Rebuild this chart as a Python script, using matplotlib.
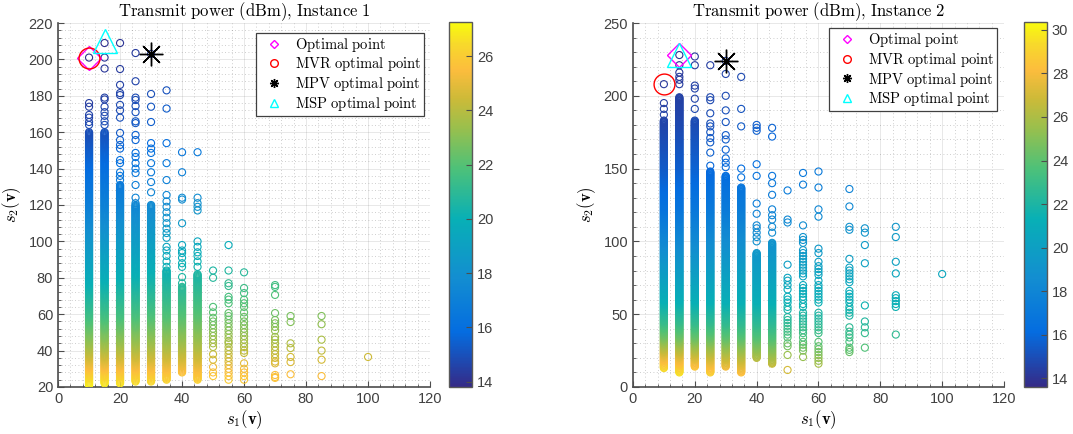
import numpy as np
import matplotlib
matplotlib.use("Agg")
import matplotlib.pyplot as plt
from matplotlib.colors import LinearSegmentedColormap, Normalize
from matplotlib.lines import Line2D
from matplotlib.ticker import MultipleLocator, AutoMinorLocator

plt.rcParams['mathtext.fontset'] = 'cm'
plt.rcParams['font.family'] = ['Liberation Sans', 'DejaVu Sans']

# ---- datos ----
# Instancia 1: columnas s1, tramo denso (min, max) de s2 y puntos sueltos
cols1 = [10, 15, 20, 25, 30, 35, 40, 45, 50, 55, 60, 70, 75, 85, 100]
dense1 = [(21, 160), (22, 160), (22, 131), (23, 120), (23, 120), (24, 84), (28, 75), (24, 82),
          None, None, None, None, None, None, None]
sparse1 = [
    [164, 165.6, 168, 169.5, 174, 176, 201],
    [164, 166, 169, 171, 174, 178, 179, 195, 201, 209],
    [133.7, 136, 138, 143, 144.7, 151, 153, 155.7, 159.6, 168, 172, 175, 180.4, 181.5, 186, 194.7, 209],
    [121, 124, 131, 137.6, 140, 143, 146.4, 148.6, 155.7, 158.5, 165, 166, 171, 174.4, 177.7, 179, 188, 203.5],
    [127, 132.6, 138, 143, 148.6, 151, 154, 165.6, 174, 181, 203],
    [86, 89, 92, 95, 97, 102, 104.6, 107, 110, 113, 116, 119, 122, 125.5, 133.7, 143, 154, 173, 183],
    [77, 80.4, 86, 88, 91, 93.6, 95, 98, 110, 123, 124, 138, 149],
    [86, 89, 92, 94, 97, 100, 117, 119, 121, 124, 149],
    [26, 28, 31, 35, 38, 42, 44, 46, 48, 50, 52, 54, 56, 58, 61, 64, 80, 84],
    [24, 26, 28, 30, 32, 34, 36, 38, 40, 42, 44, 45, 47, 49, 51, 53, 55, 57, 59, 60.6, 66, 68, 69.5, 75.5, 77, 84, 98],
    [24, 26, 28, 30, 33, 38.7, 40, 42, 44, 46, 48, 50, 52, 54, 56, 58.5, 61, 64, 66, 68, 71.6, 74.4, 83],
    [25, 25.5, 26.6, 33, 34, 36, 38, 40, 42, 44, 46, 47.5, 51, 53, 55, 56.8, 60.6, 70.6, 75, 76],
    [27, 33.7, 36.5, 41.4, 44, 55.7, 59],
    [26, 35, 40, 46, 54.5, 59],
    [36.5],
]

# Instancia 2
cols2 = [10, 15, 20, 25, 30, 35, 40, 45, 50, 55, 60, 70, 75, 85, 100]
dense2 = [(13, 183), (10, 199), (14, 183), (10, 148), (14, 145), (10, 137), (20, 92), (16, 99),
          None, None, None, None, None, None, None]
sparse2 = [
    [187, 191, 195, 208],
    [208, 211, 213, 216, 221, 228],
    [191, 198, 205, 207, 221, 227],
    [152, 161, 168, 171, 175, 179, 181, 188, 197, 199, 221],
    [151, 154, 157, 163, 170, 173, 182, 190, 200, 215, 224],
    [144, 150, 179, 191, 213],
    [100, 103, 106, 109, 111, 119, 126, 145, 153, 176, 178, 180],
    [106, 110, 115, 118, 122, 132, 140, 145, 172, 178],
    [11.7, 22, 28, 30, 34, 36, 38, 40, 42, 44, 46, 48, 53, 55, 58, 60, 62, 67, 70, 73, 75, 84, 113, 115, 135],
    [20.6, 25, 27, 29, 31, 34, 37, 39, 41, 43, 45, 47, 49, 51, 55, 57, 60, 62, 64, 66, 68, 70, 76, 78, 80,
     82, 84, 86, 88, 90, 92, 94, 99, 101, 103, 111, 139, 147],
    [16, 18, 20, 22, 24, 26, 28, 31, 37, 39, 41, 43, 45, 47, 49, 51, 58, 60, 62, 64, 66, 68, 70, 73, 77, 79,
     81, 83, 86, 92, 95, 117, 122, 137, 148],
    [24, 25.5, 27, 31, 34, 36, 38, 41, 49, 51, 53, 55, 58, 60, 62, 64, 66, 72, 74, 76, 78, 80, 82, 88, 108,
     110, 124, 136],
    [27, 37, 41, 45, 56, 85, 97.5, 106, 109],
    [36, 55, 57, 59, 61, 63, 78, 86, 103, 110],
    [77.6],
]

pw1_y = [21, 28, 35, 45, 60, 80, 100, 120, 140, 160, 175, 201, 215]
pw1_lo = [27.1, 26.0, 24.8, 23.3, 21.5, 19.8, 18.4, 17.0, 15.9, 14.9, 14.4, 14.0, 13.9]
pw1_hi = [25.6, 25.4, 24.6, 23.8, 22.8, 21.7, 20.5, 19.3, 18.3, 17.5, 17.0, 15.8, 15.5]
pw2_y = [10, 15, 25, 35, 45, 60, 80, 100, 125, 150, 183, 208, 230]
pw2_lo = [30.0, 29.0, 26.8, 24.6, 23.0, 21.3, 19.8, 18.3, 16.6, 15.5, 14.6, 14.2, 13.9]
pw2_hi = [25.0, 24.4, 23.5, 22.7, 22.1, 21.2, 20.4, 19.7, 18.6, 17.8, 16.8, 16.2, 15.8]

clim1 = (13.8, 27.26)
clim2 = (13.6, 30.36)

# puntos destacados: optimo, MVR, MPV, MSP
opt1, mvr1, mpv1, msp1 = (10, 201), (10, 201), (30, 203), (15, 210)
opt2, mvr2, mpv2, msp2 = (15, 228), (10, 208), (30, 224), (15, 228)

# colormap tipo parula
parula = LinearSegmentedColormap.from_list('parula', [
    (0.00, (0.208, 0.166, 0.529)),
    (0.15, (0.017, 0.426, 0.879)),
    (0.30, (0.074, 0.557, 0.818)),
    (0.46, (0.031, 0.689, 0.713)),
    (0.60, (0.305, 0.757, 0.472)),
    (0.71, (0.600, 0.750, 0.300)),
    (0.79, (0.800, 0.730, 0.220)),
    (0.87, (0.990, 0.740, 0.240)),
    (0.94, (0.970, 0.850, 0.170)),
    (1.00, (0.976, 0.983, 0.054))])


def build(cols, dense, sparse, py, plo, phi):
    xs, ys = [], []
    for c, d, s in zip(cols, dense, sparse):
        if d is not None:
            v = np.arange(d[0], d[1] + 0.01, 0.5)
            xs += [c] * len(v)
            ys += list(v)
        xs += [c] * len(s)
        ys += list(s)
    xs = np.array(xs, float)
    ys = np.array(ys, float)
    w = (xs - 10) / 75.0
    p = (1 - w) * np.interp(ys, py, plo) + w * np.interp(ys, py, phi)
    return xs, ys, p


def panel(ax, cax, data, clim, ymax, ystep, title, opt, mvr, mpv, msp, leg_anchor):
    xs, ys, p = data
    norm = Normalize(*clim)
    ax.scatter(xs, ys, s=26, facecolors='none', edgecolors=parula(norm(p)),
               linewidths=0.8, zorder=3)
    ax.plot(*opt, marker='D', ms=12, mfc='none', mec='magenta', mew=1.0, ls='none', zorder=4)
    ax.plot(*mvr, marker='o', ms=15, mfc='none', mec='red', mew=1.0, ls='none', zorder=4)
    ax.plot(*mpv, marker=(8, 2, 0), ms=17, color='black', mew=1.0, ls='none', zorder=4)
    ax.plot(*msp, marker='^', ms=17, mfc='none', mec='cyan', mew=1.0, ls='none', zorder=4)

    ax.set_xlim(0, 120)
    ax.set_ylim(ymax[0], ymax[1])
    ax.xaxis.set_major_locator(MultipleLocator(20))
    ax.yaxis.set_major_locator(MultipleLocator(ystep))
    ax.xaxis.set_minor_locator(AutoMinorLocator(5))
    ax.yaxis.set_minor_locator(AutoMinorLocator(5))
    ax.grid(True, which='major', color='0.15', alpha=0.12, lw=0.6)
    ax.grid(True, which='minor', color='0.15', alpha=0.3, lw=0.6, ls=(0, (1, 3)))
    ax.set_axisbelow(True)
    for sp in ['top', 'right']:
        ax.spines[sp].set_visible(False)
    for sp in ['left', 'bottom']:
        ax.spines[sp].set_color('0.3')
        ax.spines[sp].set_linewidth(1.2)
    ax.tick_params(which='both', direction='in', colors='0.3', labelsize=10.5, labelcolor='0.25')
    ax.tick_params(which='major', length=4)
    ax.tick_params(which='minor', length=2)
    ax.set_title(title, fontsize=12, pad=4)
    ax.set_xlabel(r'$s_1(\mathbf{v})$', fontsize=12, labelpad=2)
    ax.set_ylabel(r'$s_2(\mathbf{v})$', fontsize=12, labelpad=4)

    handles = [
        Line2D([], [], marker='D', ms=4.5, mfc='none', mec='magenta', ls='none'),
        Line2D([], [], marker='o', ms=5.5, mfc='none', mec='red', ls='none'),
        Line2D([], [], marker=(8, 2, 0), ms=6.5, color='black', ls='none'),
        Line2D([], [], marker='^', ms=5.5, mfc='none', mec='cyan', ls='none'),
    ]
    labels = [r'$\mathrm{Optimal\ point}$', r'$\mathrm{MVR\ optimal\ point}$',
              r'$\mathrm{MPV\ optimal\ point}$', r'$\mathrm{MSP\ optimal\ point}$']
    leg = ax.legend(handles, labels, loc='upper right', bbox_to_anchor=leg_anchor, fontsize=10.5,
                    frameon=True, fancybox=False, edgecolor='0.25', framealpha=1,
                    borderpad=0.2, labelspacing=0.12, handletextpad=0.35, handlelength=2.1,
                    borderaxespad=0)
    leg.get_frame().set_linewidth(0.9)
    leg.set_zorder(5)

    sm = plt.cm.ScalarMappable(norm=norm, cmap=parula)
    cb = plt.colorbar(sm, cax=cax)
    cb.outline.set_edgecolor('0.35')
    cb.outline.set_linewidth(1.0)
    cb.ax.yaxis.set_major_locator(MultipleLocator(2))
    cb.ax.tick_params(direction='in', colors='0.3', labelcolor='0.25', labelsize=10.5, length=4)


fig = plt.figure(figsize=(10.73, 4.34), dpi=100)
ax1 = fig.add_axes([0.0541, 0.1083, 0.3467, 0.8387])
cax1 = fig.add_axes([0.4184, 0.1083, 0.0214, 0.841])
ax2 = fig.add_axes([0.5899, 0.1083, 0.3458, 0.8387])
cax2 = fig.add_axes([0.9543, 0.1083, 0.0214, 0.841])

d1 = build(cols1, dense1, sparse1, pw1_y, pw1_lo, pw1_hi)
d2 = build(cols2, dense2, sparse2, pw2_y, pw2_lo, pw2_hi)

panel(ax1, cax1, d1, clim1, (20, 220), 20, r'$\mathrm{Transmit\ power\ (dBm){,}\ Instance\ 1}$',
      opt1, mvr1, mpv1, msp1, (0.984, 0.973))
panel(ax2, cax2, d2, clim2, (0, 250), 50, r'$\mathrm{Transmit\ power\ (dBm){,}\ Instance\ 2}$',
      opt2, mvr2, mpv2, msp2, (0.981, 0.986))

fig.savefig('out.png', dpi=100)
